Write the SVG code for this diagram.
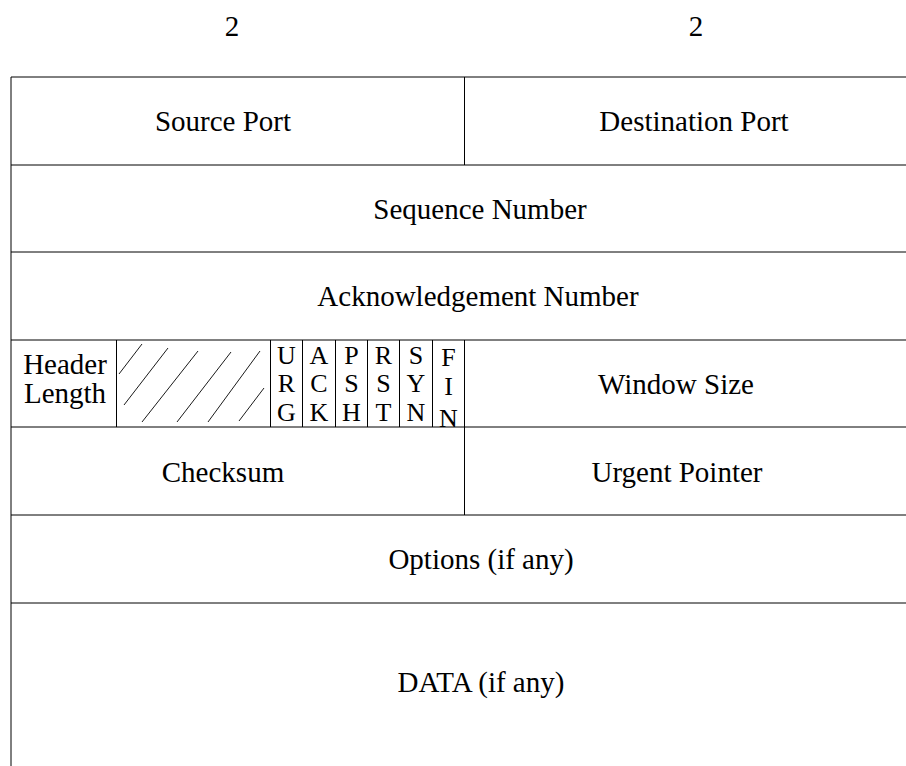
<svg xmlns="http://www.w3.org/2000/svg" width="906" height="766" viewBox="0 0 906 766">
<style>
.ln{stroke:#000;stroke-width:1;fill:none}
.ln2{stroke:#000;stroke-width:1;fill:none}
.t{font-family:"Liberation Serif","Times New Roman",serif;font-size:29px;fill:#000;text-anchor:middle}
.f{font-family:"Liberation Serif","Times New Roman",serif;font-size:26px;fill:#000;text-anchor:middle}
.h{stroke:#000;stroke-width:0.9;fill:none}
</style>
<rect width="906" height="766" fill="#fff"/>
<g id="connectors">
<line class="ln" x1="11" y1="77" x2="906" y2="77"/>
<line class="ln" x1="11" y1="165" x2="906" y2="165"/>
<line class="ln" x1="11" y1="252" x2="906" y2="252"/>
<line class="ln" x1="11" y1="340" x2="906" y2="340"/>
<line class="ln" x1="11" y1="427" x2="906" y2="427"/>
<line class="ln" x1="11" y1="515" x2="906" y2="515"/>
<line class="ln" x1="11" y1="603" x2="906" y2="603"/>
<line class="ln" x1="11" y1="77" x2="11" y2="766"/>
<line class="ln2" x1="464.5" y1="77" x2="464.5" y2="165"/>
<line class="ln2" x1="464.5" y1="340" x2="464.5" y2="515"/>
<line class="ln2" x1="116.5" y1="340" x2="116.5" y2="427"/>
<line class="ln2" x1="270.5" y1="340" x2="270.5" y2="427"/>
<line class="ln2" x1="302.5" y1="340" x2="302.5" y2="427"/>
<line class="ln2" x1="335.5" y1="340" x2="335.5" y2="427"/>
<line class="ln2" x1="367.5" y1="340" x2="367.5" y2="427"/>
<line class="ln2" x1="399.5" y1="340" x2="399.5" y2="427"/>
<line class="ln2" x1="432.5" y1="340" x2="432.5" y2="427"/>
</g>
<g id="sizes">
<text class="t" x="232" y="36">2</text>
<text class="t" x="696" y="36">2</text>
</g>
<g id="source-port"><text class="t" x="223" y="131">Source Port</text></g>
<g id="destination-port"><text class="t" x="694" y="131">Destination Port</text></g>
<g id="sequence-number"><text class="t" x="480" y="219">Sequence Number</text></g>
<g id="ack-number"><text class="t" x="478" y="306">Acknowledgement Number</text></g>
<g id="header-length">
<text class="t" x="65" y="374">Header</text>
<text class="t" x="65" y="403">Length</text>
</g>
<g id="reserved">
<line class="h" x1="119" y1="374" x2="142" y2="344"/>
<line class="h" x1="124" y1="405" x2="168" y2="348"/>
<line class="h" x1="142" y1="422" x2="198" y2="351"/>
<line class="h" x1="177" y1="422" x2="231" y2="352"/>
<line class="h" x1="208" y1="422" x2="260" y2="351"/>
<line class="h" x1="239" y1="421" x2="264" y2="388"/>
</g>
<g id="flag-urg"><text class="f" x="286.5" y="364">U</text><text class="f" x="286.5" y="392">R</text><text class="f" x="286.5" y="421">G</text></g>
<g id="flag-ack"><text class="f" x="319" y="364">A</text><text class="f" x="319" y="392">C</text><text class="f" x="319" y="421">K</text></g>
<g id="flag-psh"><text class="f" x="351.5" y="364">P</text><text class="f" x="351.5" y="392">S</text><text class="f" x="351.5" y="421">H</text></g>
<g id="flag-rst"><text class="f" x="383.5" y="364">R</text><text class="f" x="383.5" y="392">S</text><text class="f" x="383.5" y="421">T</text></g>
<g id="flag-syn"><text class="f" x="416" y="364">S</text><text class="f" x="416" y="392">Y</text><text class="f" x="416" y="421">N</text></g>
<g id="flag-fin"><text class="f" x="448.5" y="366">F</text><text class="f" x="448.5" y="395">I</text><text class="f" x="448.5" y="427">N</text></g>
<g id="window-size"><text class="t" x="676" y="394">Window Size</text></g>
<g id="checksum"><text class="t" x="223" y="482">Checksum</text></g>
<g id="urgent-pointer"><text class="t" x="677" y="482">Urgent Pointer</text></g>
<g id="options"><text class="t" x="481" y="569">Options (if any)</text></g>
<g id="data"><text class="t" x="481" y="692">DATA (if any)</text></g>
</svg>
